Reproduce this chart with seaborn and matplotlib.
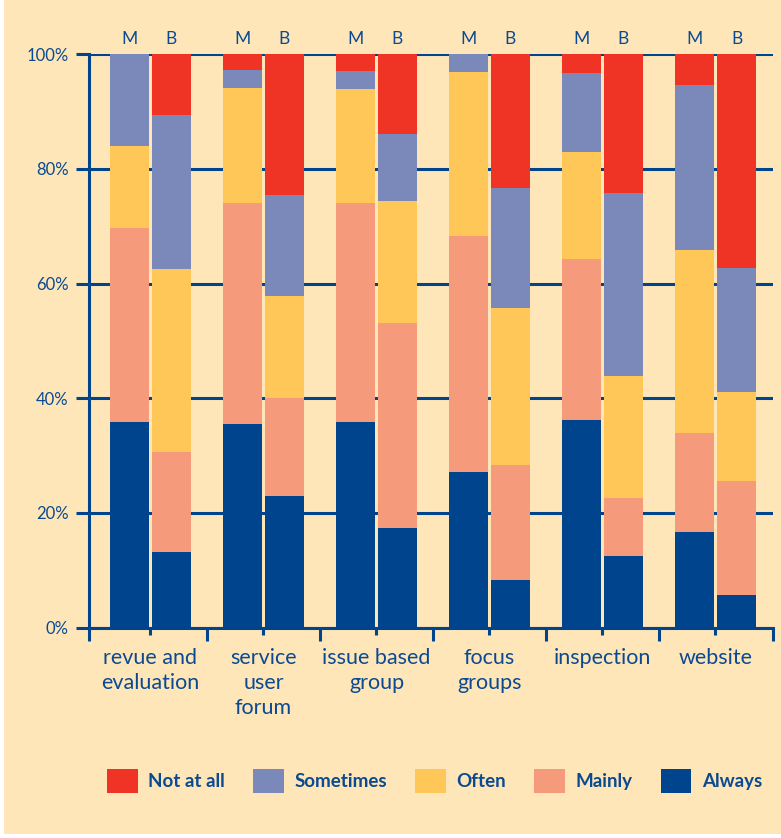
import numpy as np
import pandas as pd
import matplotlib.pyplot as plt
import seaborn as sns
from matplotlib.patches import Patch, Rectangle

# categories and survey groups
methods = ["revue and\nevaluation", "service\nuser\nforum", "issue based\ngroup",
           "focus\ngroups", "inspection", "website"]
groups = ["M", "B"]
levels = ["Always", "Mainly", "Often", "Sometimes", "Not at all"]

# percentages per level, order: M then B for each method
always    = [35.9, 13.2, 35.5, 23.0, 35.9, 17.4, 27.1, 8.3, 36.2, 12.5, 16.7, 5.7]
mainly    = [33.8, 17.4, 38.6, 17.0, 38.2, 35.8, 41.2, 20.1, 28.1, 10.1, 17.2, 19.9]
often     = [14.3, 32.0, 20.0, 17.8, 19.8, 21.2, 28.6, 27.3, 18.6, 21.3, 32.0, 15.5]
sometimes = [16.0, 26.8, 3.2, 17.7, 3.2, 11.7, 3.1, 21.0, 13.8, 31.9, 28.7, 21.6]
not_at_all = [0.0, 10.6, 2.7, 24.5, 2.9, 13.9, 0.0, 23.3, 3.3, 24.2, 5.4, 37.3]

colors = {"Always": "#00448e", "Mainly": "#f59b7c", "Often": "#ffc658",
          "Sometimes": "#7a89ba", "Not at all": "#ef3426"}
bg = "#fee6b8"
navy = "#0b4a92"

df = pd.DataFrame({
    "method": np.repeat(methods, 2),
    "group": groups * len(methods),
    "Always": always, "Mainly": mainly, "Often": often,
    "Sometimes": sometimes, "Not at all": not_at_all,
})
# cumulative heights for stacking
cum = df[levels].cumsum(axis=1)

sns.set_theme(style="white")
plt.rcParams["font.family"] = ["Lato", "DejaVu Sans"]

fig = plt.figure(figsize=(7.81, 8.38), dpi=100, facecolor="white")
fig.patches.append(Rectangle((4 / 781, 4 / 838), 1, 1, transform=fig.transFigure,
                             facecolor=bg, edgecolor="none", zorder=-10))
ax = fig.add_axes([89 / 781, 1 - 627.6 / 838, (773 - 89) / 781, 573.3 / 838])
ax.set_facecolor(bg)

# draw tallest cumulative first so lower layers sit on top
for lvl in reversed(levels):
    d = df.assign(val=cum[lvl])
    sns.barplot(data=d, x="method", y="val", hue="group", order=methods,
                hue_order=groups, palette=[colors[lvl]] * 2, width=0.744,
                gap=0.073, saturation=1, legend=False, ax=ax, zorder=3,
                linewidth=0)

ax.set_xlim(-0.544, 5.509)
ax.set_ylim(0, 100)
ax.set_xlabel("")
ax.set_ylabel("")

# y axis: gridlines with outward ticks
ax.set_yticks(range(0, 101, 20))
ax.set_yticklabels([f"{v}%" for v in range(0, 101, 20)], fontsize=12, color=navy)
ax.yaxis.grid(True, color="#00448e", linewidth=2.2, zorder=0)
ax.set_axisbelow(True)
ax.tick_params(axis="y", direction="out", length=9.5, width=2.2, color="#00448e",
               pad=5, left=True)

# x axis: long ticks at group boundaries, short ticks at group centres
bounds = [ax.get_xlim()[0]] + [i + 0.5 for i in range(len(methods) - 1)] + [ax.get_xlim()[1]]
ax.set_xticks(bounds)
ax.set_xticklabels([""] * len(bounds))
ax.set_xticks(range(len(methods)), minor=True)
ax.set_xticklabels(methods, minor=True, fontsize=15.5, color=navy, linespacing=1.3)
ax.tick_params(axis="x", which="major", direction="out", length=9.5, width=2.2,
               color="#00448e", bottom=True)
ax.tick_params(axis="x", which="minor", direction="out", length=5, width=2.2,
               color="#00448e", pad=10, bottom=True)

for s in ["top", "right"]:
    ax.spines[s].set_visible(False)
for s in ["left", "bottom"]:
    ax.spines[s].set_color("#00448e")
    ax.spines[s].set_linewidth(2.2)
    ax.spines[s].set_zorder(4)

# M / B labels along the top
top = ax.twiny()
top.set_xlim(ax.get_xlim())
off = 0.186
top.set_xticks([i + o for i in range(len(methods)) for o in (-off, off)])
top.set_xticklabels(groups * len(methods), fontsize=12.5, color=navy)
top.tick_params(axis="x", length=0, pad=5)
for s in top.spines.values():
    s.set_visible(False)

# legend
handles = [Patch(facecolor=colors[l], edgecolor="none", label=l) for l in reversed(levels)]
leg = fig.legend(handles=handles, loc="center", ncol=5, frameon=False,
                 bbox_to_anchor=(434.5 / 781, 1 - 781 / 838),
                 handlelength=1.65, handleheight=1.65, handletextpad=0.55,
                 columnspacing=1.5, prop={"size": 13.5, "weight": "bold"})
for t in leg.get_texts():
    t.set_color(navy)

fig.savefig("out.png", dpi=100, facecolor=fig.get_facecolor())
